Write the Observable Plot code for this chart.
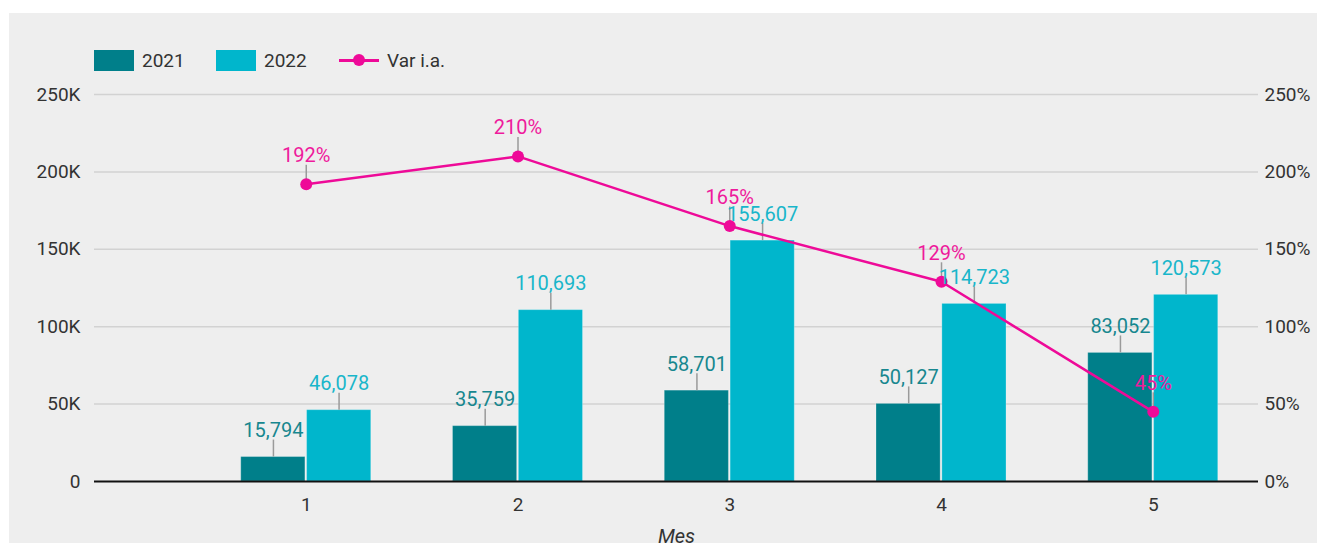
<!DOCTYPE html>
<html><head><meta charset="utf-8">
<script src="https://cdn.jsdelivr.net/npm/d3@7"></script>
<script src="https://cdn.jsdelivr.net/npm/@observablehq/plot@0.6"></script>
<style>
html,body{margin:0;padding:0;background:#fff;width:1317px;height:543px;overflow:hidden;font-family:Roboto,sans-serif}
#wrap{position:absolute;left:9px;top:13px;width:1308px;height:530px;background:#eeeeee;overflow:hidden}
#chart{position:absolute;left:0;top:0}
.li{position:absolute;top:37px;height:21px;display:flex;align-items:center;font-size:19px;color:#333;white-space:nowrap}
.sw{display:inline-block;width:40px;height:21px;margin-right:8px}
.ln{position:relative;display:inline-block;width:40px;height:21px;margin-right:8px}
.ln:before{content:"";position:absolute;left:0;right:0;top:9px;height:3px;background:#ee0a98}
.ln:after{content:"";position:absolute;left:14px;top:4px;width:12px;height:12px;border-radius:50%;background:#ee0a98}
[aria-label="x-axis label"]{font-style:italic;font-size:20px}
</style></head><body>
<div id="wrap"><div id="chart"></div><div id="legend"></div></div>
<script>
const meses = [1, 2, 3, 4, 5];
const v2021 = [15794, 35759, 58701, 50127, 83052];
const v2022 = [46078, 110693, 155607, 114723, 120573];
const varIA = [192, 210, 165, 129, 45];
const yTicks = [0, 50000, 100000, 150000, 200000, 250000];
const yTickLabels = ["0", "50K", "100K", "150K", "200K", "250K"];
const pctTickLabels = ["0%", "50%", "100%", "150%", "200%", "250%"];
const seriesNames = ["2021", "2022", "Var i.a."];

const c2021 = "#007f8a", c2022 = "#00b6cc", cVar = "#ee0a98";
const fmt = d3.format(",");
const data = meses.map((m, i) => ({m, a: v2021[i], b: v2022[i], p: varIA[i] * 1000, pl: varIA[i] + "%"}));

const chart = Plot.plot({
  width: 1308, height: 530,
  marginLeft: 85, marginRight: 59, marginTop: 81, marginBottom: 62,
  style: {background: "transparent", fontFamily: "Roboto, sans-serif", fontSize: "19px", color: "#333", overflow: "visible"},
  x: {type: "linear", domain: [0, 5.497]},
  y: {domain: [0, 250000]},
  marks: [
    Plot.gridY(yTicks.slice(1), {stroke: "#d2d2d2", strokeOpacity: 1, strokeWidth: 1.5}),
    Plot.axisY(yTicks, {anchor: "left", tickSize: 0, tickPadding: 14, tickFormat: d => yTickLabels[yTicks.indexOf(d)], label: null, fill: "#333"}),
    Plot.axisY(yTicks, {anchor: "right", tickSize: 0, tickPadding: 6, tickFormat: d => pctTickLabels[yTicks.indexOf(d)], label: null, fill: "#333", textAnchor: "start"}),
    Plot.axisX(meses, {tickSize: 0, tickPadding: 16, tickFormat: d => String(d), label: "Mes", labelAnchor: "center", labelArrow: "none", labelOffset: 61, fill: "#333"}),
    Plot.rectY(data, {x1: d => d.m - 0.307, x2: d => d.m - 0.004, y: "a", fill: c2021, stroke: "#fff", strokeOpacity: 0.25}),
    Plot.rectY(data, {x1: d => d.m + 0.004, x2: d => d.m + 0.307, y: "b", fill: c2022, stroke: "#fff", strokeOpacity: 0.25}),
    Plot.ruleY([0], {stroke: "#111", strokeWidth: 2}),
    Plot.ruleX(data, {x: d => d.m - 0.155, y1: "a", y2: "a", insetBottom: 17, stroke: "#9a9a9a", strokeWidth: 1.5}),
    Plot.ruleX(data, {x: d => d.m + 0.155, y1: "b", y2: "b", insetBottom: 17, stroke: "#9a9a9a", strokeWidth: 1.5}),
    Plot.ruleX(data, {x: "m", y1: "p", y2: "p", insetBottom: 19, stroke: "#9a9a9a", strokeWidth: 1.5}),
    Plot.line(data, {x: "m", y: "p", stroke: cVar, strokeWidth: 2.5}),
    Plot.dot(data, {x: "m", y: "p", r: 6, fill: cVar}),
    Plot.text(data, {x: d => d.m - 0.155, y: "a", text: d => fmt(d.a), dy: -20, lineAnchor: "bottom", fill: "#17878f", fontSize: 20}),
    Plot.text(data, {x: d => d.m + 0.155, y: "b", text: d => fmt(d.b), dy: -20, lineAnchor: "bottom", fill: "#19b6ca", fontSize: 20}),
    Plot.text(data, {x: "m", y: "p", text: "pl", dy: -22, lineAnchor: "bottom", fill: "#ee1a9c", fontSize: 20})
  ]
});
document.getElementById("chart").appendChild(chart);

const legend = document.getElementById("legend");
const lpos = [85, 207, 330];
const lcol = [c2021, c2022, null];
seriesNames.forEach((name, i) => {
  const div = document.createElement("div");
  div.className = "li";
  div.style.left = lpos[i] + "px";
  const sw = document.createElement("span");
  if (lcol[i]) { sw.className = "sw"; sw.style.background = lcol[i]; }
  else { sw.className = "ln"; }
  div.appendChild(sw);
  div.appendChild(document.createTextNode(name));
  legend.appendChild(div);
});
</script>
</body></html>
